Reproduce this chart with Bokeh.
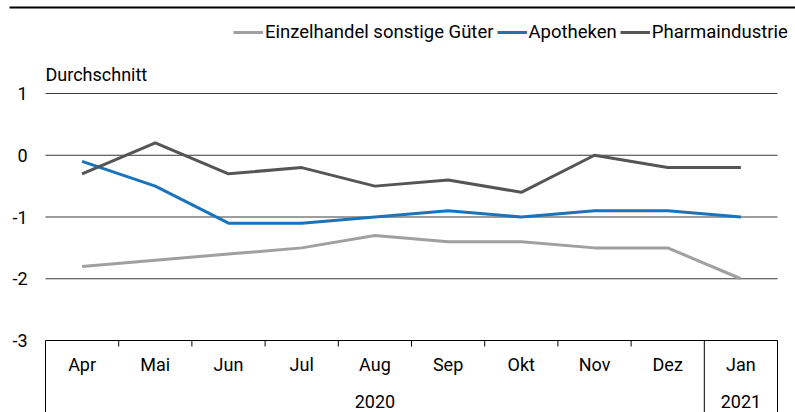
from bokeh.plotting import figure
from bokeh.models import Range1d, Legend, LegendItem
from bokeh.core.properties import value
from bokeh.embed import file_html
from bokeh.resources import INLINE

months = ["Apr", "Mai", "Jun", "Jul", "Aug", "Sep", "Okt", "Nov", "Dez", "Jan"]
years = ["2020", "2021"]
year_spans = [(0, 9), (9, 10)]
einzelhandel = [-1.8, -1.7, -1.6, -1.5, -1.3, -1.4, -1.4, -1.5, -1.5, -2.0]
apotheken = [-0.1, -0.5, -1.1, -1.1, -1.0, -0.9, -1.0, -0.9, -0.9, -1.0]
pharma = [-0.3, 0.2, -0.3, -0.2, -0.5, -0.4, -0.6, 0.0, -0.2, -0.2]
series_names = ["Einzelhandel sonstige Güter", "Apotheken", "Pharmaindustrie"]
series_colors = ["#a0a0a0", "#1a74bb", "#555555"]
y_ticks = [1, 0, -1, -2, -3]
y_title = "Durchschnitt"

FONT = "Roboto"
FS = "18px"
W, H = 795, 412
# frame covers the whole figure; scale: 73.2 px per category, 61.75 px per unit
xu, yu = 73.2, 61.75
x0_px, y1_px = 45.0, 93.0  # position of x=0 and y=1 inside the figure
x_left = -x0_px / xu
x_right = (W - x0_px) / xu
y_top = 1 + y1_px / yu
y_bottom = 1 - (H - y1_px) / yu

p = figure(width=W, height=H, output_backend="svg", toolbar_location=None,
           x_range=Range1d(x_left, x_right), y_range=Range1d(y_bottom, y_top),
           min_border=0, min_border_left=0, min_border_right=0,
           min_border_top=0, min_border_bottom=0)
p.axis.visible = False
p.grid.visible = False
p.outline_line_color = None
p.background_fill_color = "white"
p.border_fill_color = "white"

n = len(months)
xc = [i + 0.5 for i in range(n)]

# top rule (from the cropped title block)
p.segment(x0=[x_left + 9 / xu], x1=[x_right], y0=[y_top - 7 / yu], y1=[y_top - 7 / yu],
          line_color="black", line_width=2)

# gridlines
grid_vals = [t for t in y_ticks if t != y_ticks[-1]]
p.segment(x0=[0] * len(grid_vals), x1=[n] * len(grid_vals), y0=grid_vals, y1=grid_vals,
          line_color="#3a3a3a", line_width=1)

# y tick labels
p.text(x=[-18 / xu] * len(y_ticks), y=y_ticks, text=[str(t) for t in y_ticks],
       text_align="right", text_baseline="middle", text_font=value(FONT),
       text_font_size=FS, text_color="#000000")
# y title
p.text(x=[0], y=[1 + 19 / yu], text=[y_title], text_align="left", text_baseline="middle",
       text_font=value(FONT), text_font_size=FS, text_color="#000000")

# series
renderers = []
for vals, col in zip([einzelhandel, apotheken, pharma], series_colors):
    r = p.line(x=xc, y=vals, line_color=col, line_width=3)
    renderers.append(r)

# category axis box
ymin = y_ticks[-1]
p.segment(x0=[0], x1=[n], y0=[ymin], y1=[ymin], line_color="black", line_width=1)
bounds = sorted(set([s for s, e in year_spans] + [e for s, e in year_spans]))
p.segment(x0=bounds, x1=bounds, y0=[ymin] * len(bounds), y1=[y_bottom] * len(bounds),
          line_color="black", line_width=1)
inner = [i for i in range(1, n) if i not in bounds]
p.segment(x0=inner, x1=inner, y0=[ymin] * len(inner), y1=[ymin - 6 / yu] * len(inner),
          line_color="black", line_width=1)
p.text(x=xc, y=[ymin - 24 / yu] * n, text=months, text_align="center", text_baseline="middle",
       text_font=value(FONT), text_font_size=FS, text_color="#000000")
p.text(x=[(s + e) / 2 for s, e in year_spans], y=[ymin - 61 / yu] * len(years), text=years,
       text_align="center", text_baseline="middle", text_font=value(FONT),
       text_font_size=FS, text_color="#000000")

legend = Legend(items=[LegendItem(label=nm, renderers=[r]) for nm, r in zip(series_names, renderers)],
                orientation="horizontal", location=(233, 369),
                label_text_font=FONT, label_text_font_size="18.5px", label_text_color="#000000",
                glyph_width=30, glyph_height=20, label_standoff=2, spacing=3,
                padding=0, margin=0, border_line_color=None, background_fill_alpha=0,
                label_height=20)
p.add_layout(legend)

open("out.html", "w").write(file_html(p, INLINE))
